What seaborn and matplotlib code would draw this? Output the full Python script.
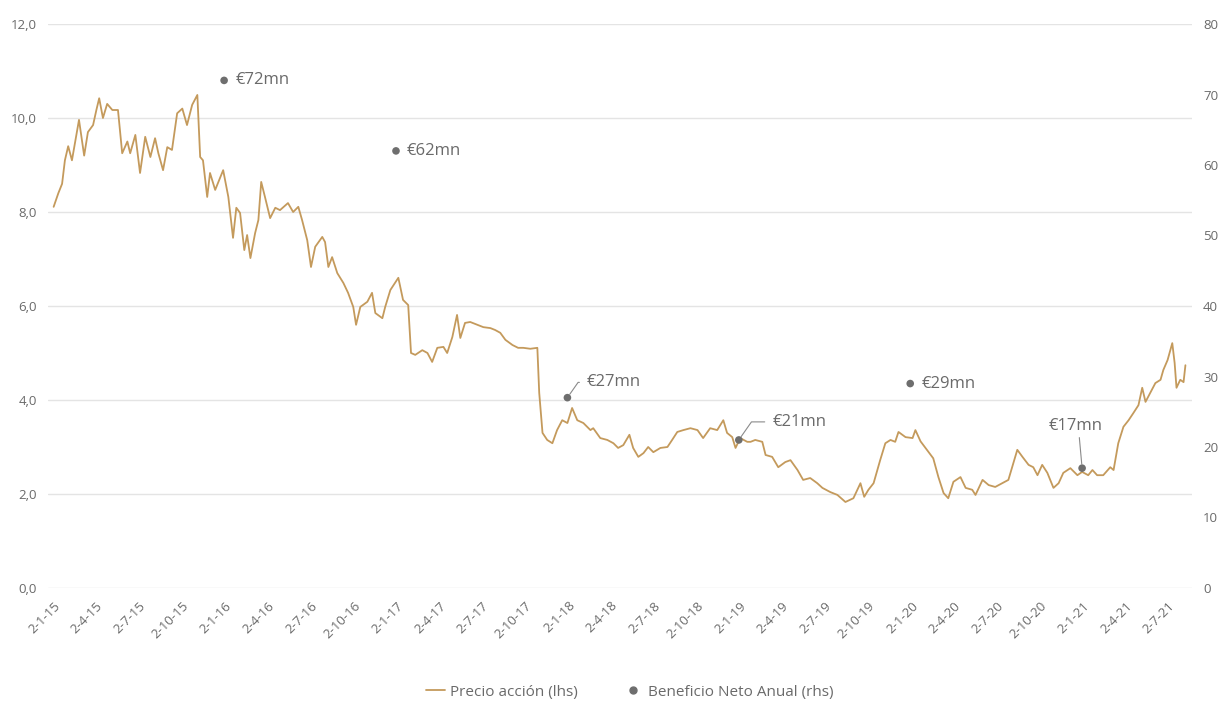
import matplotlib
matplotlib.use("Agg")
import matplotlib.pyplot as plt
from matplotlib.lines import Line2D
import matplotlib.ticker as mticker
import numpy as np
import pandas as pd
import seaborn as sns

# ---------------- data ----------------
start_date = "2015-01-02"
# days since 2-1-15 for each price reading
price_days = [0, 10, 18, 24, 31, 39, 46, 54, 65, 73, 84, 91, 97, 105, 114, 125, 137, 146, 157, 163,
              174, 184, 195, 206, 216, 223, 233, 242, 252, 263, 274, 284, 295, 306, 312, 318, 327, 333,
              344, 361, 372, 382, 389, 397, 406, 412, 419, 429, 436, 442, 450, 461, 472, 482, 499, 510,
              521, 529, 540, 548, 557, 572, 578, 585, 593, 604, 617, 627, 638, 644, 653, 668, 678, 685,
              700, 706, 717, 734, 744, 755, 761, 770, 785, 796, 806, 817, 830, 838, 849, 859, 866, 876,
              887, 902, 915, 930, 940, 951, 962, 977, 989, 1000, 1015, 1030, 1034, 1041, 1051, 1062,
              1072, 1083, 1094, 1104, 1115, 1128, 1143, 1149, 1164, 1179, 1192, 1202, 1213, 1226, 1234,
              1245, 1256, 1266, 1277, 1292, 1307, 1317, 1328, 1341, 1356, 1371, 1383, 1398, 1413, 1426,
              1434, 1445, 1452, 1462, 1477, 1484, 1494, 1509, 1516, 1530, 1543, 1558, 1569, 1584, 1596,
              1611, 1626, 1637, 1654, 1669, 1686, 1703, 1718, 1726, 1735, 1746, 1760, 1771, 1782, 1792,
              1799, 1814, 1829, 1835, 1846, 1861, 1873, 1884, 1895, 1905, 1916, 1931, 1942, 1956, 1963,
              1978, 1991, 2005, 2020, 2033, 2052, 2063, 2076, 2086, 2095, 2105, 2116, 2129, 2140, 2150,
              2165, 2180, 2190, 2203, 2212, 2222, 2235, 2250, 2257, 2267, 2278, 2289, 2299, 2310, 2318,
              2325, 2336, 2346, 2357, 2363, 2372, 2382, 2387, 2391, 2399, 2406, 2410]
price_values = [8.11, 8.40, 8.60, 9.10, 9.40, 9.10, 9.50, 9.96, 9.20, 9.70, 9.85, 10.17, 10.42, 10.00,
                10.30, 10.17, 10.17, 9.25, 9.50, 9.25, 9.64, 8.83, 9.60, 9.17, 9.57, 9.25, 8.89, 9.38,
                9.32, 10.10, 10.20, 9.85, 10.28, 10.49, 9.17, 9.10, 8.32, 8.83, 8.47, 8.89, 8.32, 7.45,
                8.09, 7.98, 7.19, 7.51, 7.02, 7.55, 7.83, 8.64, 8.32, 7.87, 8.09, 8.04, 8.19, 8.00,
                8.11, 7.83, 7.40, 6.83, 7.26, 7.47, 7.36, 6.83, 7.04, 6.70, 6.49, 6.28, 5.98, 5.60,
                5.98, 6.09, 6.28, 5.85, 5.74, 5.98, 6.34, 6.60, 6.13, 6.02, 5.00, 4.96, 5.06, 5.00,
                4.81, 5.11, 5.13, 5.00, 5.34, 5.81, 5.32, 5.64, 5.66, 5.60, 5.55, 5.53, 5.49, 5.43,
                5.28, 5.17, 5.11, 5.11, 5.09, 5.11, 4.15, 3.30, 3.15, 3.08, 3.36, 3.57, 3.51, 3.83,
                3.57, 3.51, 3.36, 3.40, 3.19, 3.15, 3.08, 2.98, 3.04, 3.26, 2.98, 2.79, 2.87, 3.00,
                2.89, 2.98, 3.00, 3.15, 3.32, 3.36, 3.40, 3.36, 3.19, 3.40, 3.36, 3.57, 3.30, 3.21,
                2.98, 3.19, 3.11, 3.11, 3.15, 3.11, 2.83, 2.79, 2.57, 2.68, 2.72, 2.51, 2.30, 2.34,
                2.23, 2.13, 2.04, 1.98, 1.83, 1.91, 2.23, 1.94, 2.09, 2.23, 2.72, 3.08, 3.15, 3.11,
                3.32, 3.21, 3.19, 3.36, 3.12, 2.92, 2.76, 2.36, 2.02, 1.91, 2.26, 2.36, 2.13, 2.09,
                1.98, 2.30, 2.19, 2.15, 2.23, 2.30, 2.94, 2.79, 2.62, 2.57, 2.40, 2.62, 2.45, 2.13,
                2.23, 2.45, 2.55, 2.40, 2.47, 2.40, 2.51, 2.40, 2.40, 2.57, 2.51, 3.08, 3.43, 3.57,
                3.72, 3.89, 4.26, 3.96, 4.17, 4.36, 4.43, 4.64, 4.85, 5.21, 4.79, 4.26, 4.43, 4.38,
                4.74]

profit_dates = ["2015-12-31", "2016-12-31", "2017-12-31", "2018-12-31", "2019-12-31", "2020-12-31"]
profit_values = [72, 62, 27, 21, 29, 17]
profit_labels = ["€72mn", "€62mn", "€27mn", "€21mn", "€29mn", "€17mn"]

left_ticks = [0, 2, 4, 6, 8, 10, 12]
right_ticks = [0, 10, 20, 30, 40, 50, 60, 70, 80]

line_label = "Precio acción (lhs)"
dot_label = "Beneficio Neto Anual (rhs)"

# ---------------- build frames ----------------
t0 = pd.Timestamp(start_date)
price_df = pd.DataFrame({"fecha": t0 + pd.to_timedelta(price_days, unit="D"),
                         "precio": price_values})
profit_df = pd.DataFrame({"fecha": pd.to_datetime(profit_dates), "beneficio": profit_values})

# ---------------- style ----------------
sns.set_theme(style="white")
plt.rcParams["font.family"] = ["Open Sans", "DejaVu Sans"]

LINE_C = "#C49A5C"
DOT_C = "#6E6E6E"
TXT_C = "#6A6A6A"
GRID_C = "#E4E4E4"

fig = plt.figure(figsize=(12.2, 7.04), dpi=100)
ax = fig.add_axes([48 / 1220, 116 / 704, (1192 - 48) / 1220, (588 - 24) / 704])

sns.lineplot(data=price_df, x="fecha", y="precio", ax=ax, color=LINE_C, linewidth=1.3,
             legend=False)

ax.set_ylim(0, 12)
ax.set_yticks(left_ticks)
ax.yaxis.set_major_formatter(mticker.FuncFormatter(lambda v, p: f"{v:.1f}".replace(".", ",")))
ax.grid(axis="y", color=GRID_C, linewidth=1)
ax.grid(axis="x", visible=False)
ax.set_axisbelow(True)

xmin = t0 + pd.Timedelta(days=-12)
xmax = t0 + pd.Timedelta(days=2424)
ax.set_xlim(xmin, xmax)
xt = pd.date_range("2015-01-01", "2021-07-01", freq="3MS") + pd.Timedelta(days=1)
ax.set_xticks(xt)
ax.set_xticklabels([f"{d.day}-{d.month}-{d.strftime('%y')}" for d in xt], rotation=45,
                   ha="right", rotation_mode="anchor")

for s in ax.spines.values():
    s.set_visible(False)
ax.tick_params(axis="both", length=0, colors=TXT_C, labelsize=9.5)
ax.tick_params(axis="x", pad=8)
ax.tick_params(axis="y", pad=8)
ax.set_xlabel("")
ax.set_ylabel("")

ax2 = ax.twinx()
sns.scatterplot(data=profit_df, x="fecha", y="beneficio", ax=ax2, color=DOT_C, s=30,
                edgecolor="none", legend=False, zorder=5)
ax2.set_ylim(0, 80)
ax2.set_yticks(right_ticks)
ax2.set_ylabel("")
for s in ax2.spines.values():
    s.set_visible(False)
ax2.tick_params(axis="y", length=0, colors=TXT_C, labelsize=9.5, pad=8)
ax2.grid(False)
ax2.set_xlim(xmin, xmax)

# annotations
offsets = {
    "€72mn": ((8, 0), False),
    "€62mn": ((8, 0), False),
    "€27mn": ((14, 11), True),
    "€21mn": ((24, 13), True),
    "€29mn": ((8, 0), False),
    "€17mn": ((-24, 30), True),
}
for d, v, lab in zip(profit_df["fecha"], profit_df["beneficio"], profit_labels):
    off, leader = offsets[lab]
    if leader:
        if lab == "€17mn":
            ax2.annotate("", xy=(d, v), xytext=(-2, 22), textcoords="offset points",
                         arrowprops=dict(arrowstyle="-", color="#8A8A8A", lw=0.8,
                                         shrinkA=0, shrinkB=3))
            ax2.annotate(lab, xy=(d, v), xytext=off, textcoords="offset points",
                         fontsize=12, color=TXT_C, va="center", ha="left")
        else:
            ax2.annotate(lab, xy=(d, v), xytext=off, textcoords="offset points",
                         fontsize=12, color=TXT_C, va="center", ha="left",
                         arrowprops=dict(arrowstyle="-", color="#8A8A8A", lw=0.8,
                                         connectionstyle="angle,angleA=0,angleB=55,rad=0",
                                         shrinkA=3, shrinkB=3))
    else:
        ax2.annotate(lab, xy=(d, v), xytext=off, textcoords="offset points",
                     fontsize=12, color=TXT_C, va="center", ha="left")

handles = [Line2D([0], [0], color=LINE_C, lw=1.3),
           Line2D([0], [0], color=DOT_C, marker="o", linestyle="none", markersize=5)]
leg = fig.legend(handles, [line_label, dot_label], loc="center", bbox_to_anchor=(0.516, 0.017),
                 ncol=2, frameon=False, fontsize=11, handlelength=1.3, handletextpad=0.3,
                 columnspacing=3.0)
for t in leg.get_texts():
    t.set_color(TXT_C)

fig.savefig("out.png", dpi=100)
